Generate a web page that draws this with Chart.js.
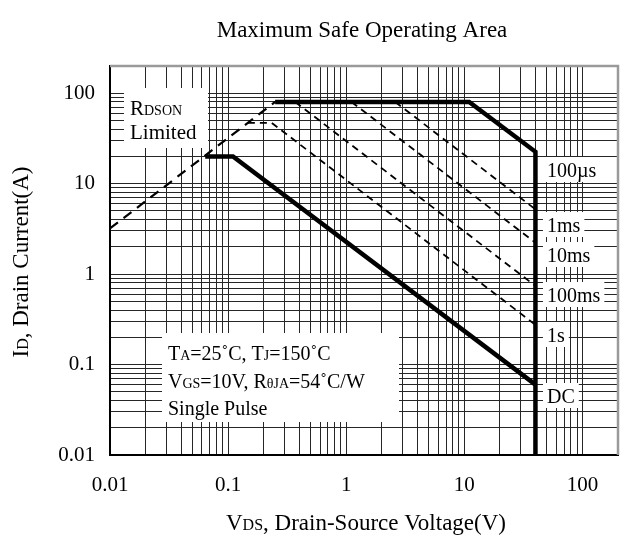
<!DOCTYPE html>
<html>
<head>
<meta charset="utf-8">
<script src="https://cdn.jsdelivr.net/npm/chart.js@4"></script>
<style>
  html, body { margin: 0; padding: 0; background: #fff; }
  #wrap { width: 620px; height: 538px; position: relative; }
</style>
</head>
<body>
<div id="wrap"><canvas id="soa"></canvas></div>
<script>
// SOA curves, VDS in volts, ID in amps
const rdsonV = [0.01, 0.25];
const rdsonI = [3.2, 80];
const us100V = [0.25, 11, 40, 40];
const us100I = [80, 80, 22.5, 0.01];
const ms1V = [2.6, 40];
const ms1I = [80, 5.2];
const ms10V = [1.11, 40];
const ms10I = [80, 2.22];
const ms100V = [0.37, 40];
const ms100I = [80, 0.74];
const s1V = [0.147, 0.234, 40];
const s1I = [47, 47, 0.275];
const dcV = [0.064, 0.11, 40];
const dcI = [20, 20, 0.06];

const decadeTicks = [0.01, 0.1, 1, 10, 100];
const tickLabels = ['0.01', '0.1', '1', '10', '100'];
const sideLabels = ['100µs', '1ms', '10ms', '100ms', '1s', 'DC'];

const serif = '"Liberation Serif", "Times New Roman", serif';
const gridColor = '#262626';

function pts(xs, ys) {
  return xs.map((x, i) => ({ x: x, y: ys[i] }));
}

// one grid line per 1..9 of every decade, label only on decades
function gridTicks(scale) {
  const t = [];
  decadeTicks.forEach(d => {
    for (let m = 1; m <= 9; m++) {
      const v = +(d * m).toPrecision(3);
      if (v <= 100) t.push({ value: v });
    }
  });
  scale.ticks = t;
}

function tickText(v) {
  const i = decadeTicks.indexOf(v);
  return i >= 0 ? tickLabels[i] : '';
}

// text with mixed sizes, like "VDS" with small caps subscript
function rich(ctx, parts, x, y, align) {
  let w = 0;
  parts.forEach(p => {
    ctx.font = p[1] + 'px ' + serif;
    w += ctx.measureText(p[0]).width;
  });
  let cx = align === 'center' ? x - w / 2 : x;
  parts.forEach(p => {
    ctx.font = p[1] + 'px ' + serif;
    ctx.fillText(p[0], cx, y);
    cx += ctx.measureText(p[0]).width;
  });
  return w;
}

// layout of the annotations (pixels)
const sideX = 547;
const sideBase = [177, 232, 262, 302, 342, 403];

const decor = {
  id: 'decor',
  beforeDatasetsDraw(chart) {
    const ctx = chart.ctx, a = chart.chartArea;
    ctx.save();
    ctx.strokeStyle = '#9a9a9a';
    ctx.lineWidth = 2.5;
    ctx.beginPath();
    ctx.moveTo(a.left, a.top);
    ctx.lineTo(a.right, a.top);
    ctx.lineTo(a.right, a.bottom);
    ctx.stroke();

    ctx.fillStyle = '#fff';
    ctx.fillRect(124, 88, 84, 60);
    ctx.fillRect(162, 333, 237, 89);

    ctx.textBaseline = 'alphabetic';
    sideLabels.forEach((s, i) => {
      ctx.font = '20px ' + serif;
      const w = ctx.measureText(s).width;
      ctx.fillStyle = '#fff';
      ctx.fillRect(sideX - 4, sideBase[i] - 20, w + 8, 25);
      ctx.fillStyle = '#000';
      ctx.fillText(s, sideX, sideBase[i]);
    });

    ctx.fillStyle = '#000';
    rich(ctx, [['R', 21], ['DSON', 14]], 130, 115);
    rich(ctx, [['Limited', 21]], 130, 139);
    rich(ctx, [['T', 20], ['A', 14], ['=25˚C, T', 20], ['J', 14], ['=150˚C', 20]], 168, 360);
    rich(ctx, [['V', 20], ['GS', 14], ['=10V, R', 20], ['θJA', 14], ['=54˚C/W', 20]], 168, 388);
    rich(ctx, [['Single Pulse', 20]], 168, 415);
    ctx.restore();
  },
  afterDraw(chart) {
    const ctx = chart.ctx;
    ctx.save();
    ctx.fillStyle = '#000';
    ctx.textBaseline = 'alphabetic';
    rich(ctx, [['Maximum Safe Operating Area', 23]], 362, 37, 'center');
    rich(ctx, [['V', 23], ['DS', 16], [', Drain-Source Voltage(V)', 23]], 366, 530, 'center');
    ctx.translate(28, 262);
    ctx.rotate(-Math.PI / 2);
    rich(ctx, [['I', 23], ['D', 16], [', Drain Current(A)', 23]], 0, 0, 'center');
    ctx.restore();
  }
};

function thick(data) {
  return { data: data, borderColor: '#000', borderWidth: 4.5, borderJoinStyle: 'miter', order: 0 };
}
function dashed(data) {
  return { data: data, borderColor: '#000', borderWidth: 1.8, borderDash: [7, 5], order: 1 };
}

const rds = dashed(pts(rdsonV, rdsonI));
rds.borderWidth = 2.2;
rds.borderDash = [10, 7];

new Chart(document.getElementById('soa'), {
  type: 'scatter',
  data: {
    datasets: [
      thick(pts(us100V, us100I)),
      thick(pts(dcV, dcI)),
      rds,
      dashed(pts(ms1V, ms1I)),
      dashed(pts(ms10V, ms10I)),
      dashed(pts(ms100V, ms100I)),
      dashed(pts(s1V, s1I))
    ]
  },
  options: {
    responsive: true,
    maintainAspectRatio: false,
    animation: false,
    showLine: true,
    elements: { point: { radius: 0 }, line: { tension: 0 } },
    layout: { padding: { top: 66, right: 2, left: 0, bottom: 0 } },
    plugins: { legend: { display: false }, tooltip: { enabled: false } },
    scales: {
      x: {
        type: 'logarithmic',
        min: 0.01,
        max: 200,
        afterBuildTicks: gridTicks,
        afterFit: s => { s.height = 83; },
        grid: { color: gridColor, lineWidth: 1, drawTicks: false },
        border: { color: '#000', width: 2 },
        ticks: {
          autoSkip: false, maxRotation: 0, minRotation: 0, padding: 18,
          color: '#000', font: { family: serif, size: 21 }, callback: tickText
        }
      },
      y: {
        type: 'logarithmic',
        min: 0.01,
        max: 200,
        afterBuildTicks: gridTicks,
        afterFit: s => { s.width = 110; },
        grid: { color: gridColor, lineWidth: 1, drawTicks: false },
        border: { color: '#000', width: 2 },
        ticks: {
          autoSkip: false, padding: 15,
          color: '#000', font: { family: serif, size: 21 }, callback: tickText
        }
      }
    }
  },
  plugins: [decor]
});
</script>
</body>
</html>
